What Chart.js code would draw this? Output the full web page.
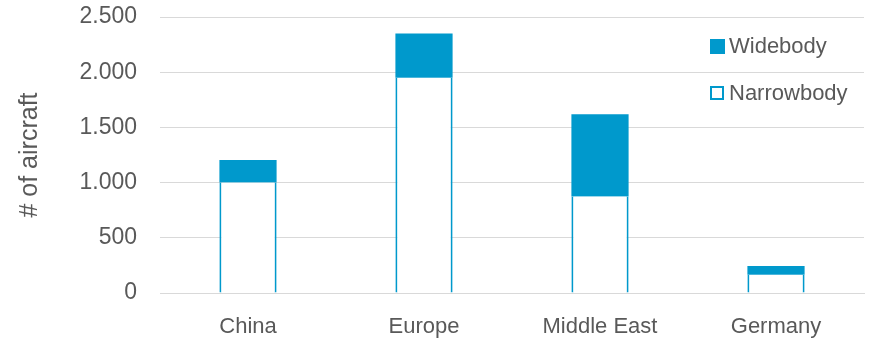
<!DOCTYPE html>
<html>
<head>
<meta charset="utf-8">
<script src="https://cdn.jsdelivr.net/npm/chart.js@4.4.1/dist/chart.umd.min.js"></script>
<style>
  html, body { margin: 0; padding: 0; background: #ffffff; }
  #wrap { width: 871px; height: 338px; }
</style>
</head>
<body>
<div id="wrap"><canvas id="fleet"></canvas></div>
<script>
// values
const regions = ['China', 'Europe', 'Middle East', 'Germany'];
const narrowbody = [1000, 1950, 875, 165];
const widebody = [205, 400, 745, 80];
const yTicks = [0, 500, 1000, 1500, 2000, 2500];

const BLUE = '#0099cc';
const GREY_TEXT = '#595959';
const GRID = '#d9d9d9';
const FONT = '"Liberation Sans", Arial, sans-serif';

// legend sits inside the plot, top right, widebody first
const cornerLegend = {
  id: 'cornerLegend',
  afterDraw(chart) {
    const ctx = chart.ctx;
    const items = chart.data.datasets.slice().reverse();
    ctx.save();
    ctx.font = '22px ' + FONT;
    ctx.textBaseline = 'middle';
    items.forEach((ds, i) => {
      const cy = 46 + i * 47;
      if (ds.backgroundColor === '#ffffff') {
        ctx.fillStyle = '#ffffff';
        ctx.fillRect(710, cy - 7, 14, 14);
        ctx.strokeStyle = BLUE;
        ctx.lineWidth = 2;
        ctx.strokeRect(711, cy - 6, 12, 12);
      } else {
        ctx.fillStyle = ds.backgroundColor;
        ctx.fillRect(710, cy - 7, 15, 15);
      }
      ctx.fillStyle = GREY_TEXT;
      ctx.fillText(ds.label, 729, cy + 1);
    });
    ctx.restore();
  }
};

new Chart(document.getElementById('fleet'), {
  type: 'bar',
  data: {
    labels: regions,
    datasets: [
      {
        label: 'Narrowbody',
        data: narrowbody,
        backgroundColor: '#ffffff',
        borderColor: BLUE,
        borderWidth: { left: 2, right: 2, top: 0, bottom: 0 },
        borderSkipped: false
      },
      {
        label: 'Widebody',
        data: widebody,
        backgroundColor: BLUE,
        borderWidth: 0
      }
    ]
  },
  options: {
    responsive: true,
    maintainAspectRatio: false,
    animation: false,
    layout: { padding: { top: 0, right: 7, left: 0, bottom: 0 } },
    datasets: { bar: { categoryPercentage: 1, barPercentage: 0.325 } },
    plugins: {
      legend: { display: false },
      tooltip: { enabled: false }
    },
    scales: {
      x: {
        stacked: true,
        z: 1,
        grid: { display: false, drawTicks: false },
        border: { display: true, color: GRID, width: 1 },
        ticks: { color: GREY_TEXT, font: { family: FONT, size: 22 }, padding: 21 },
        afterFit(scale) { scale.height = 45; }
      },
      y: {
        stacked: true,
        min: 0,
        max: 2500,
        afterBuildTicks(scale) { scale.ticks = yTicks.map(v => ({ value: v })); },
        grid: { color: GRID, lineWidth: 1, drawTicks: false },
        border: { display: false },
        ticks: {
          color: GREY_TEXT,
          font: { family: FONT, size: 23 },
          padding: 23,
          callback: v => v.toLocaleString('de-DE')
        },
        title: {
          display: true,
          text: '# of aircraft',
          color: GREY_TEXT,
          font: { family: FONT, size: 25 },
          padding: { top: 15, bottom: 0 }
        },
        afterFit(scale) {
          scale.width = 160;
          scale.paddingTop = 17;
          scale.paddingBottom = 0;
        }
      }
    }
  },
  plugins: [cornerLegend]
});
</script>
</body>
</html>
